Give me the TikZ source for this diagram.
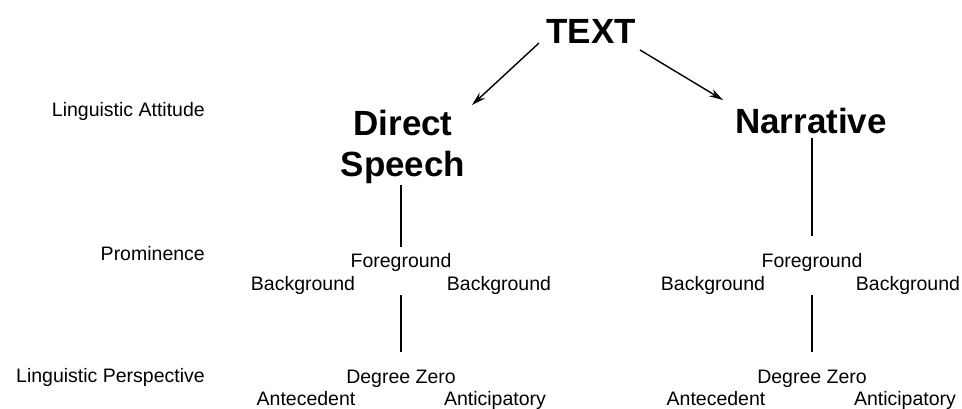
\documentclass[tikz,border=0pt]{standalone}
\usepackage{fontspec}
\setmainfont{Liberation Sans}
\usetikzlibrary{arrows.meta}
\begin{document}
\begin{tikzpicture}[x=1pt,y=-1pt,
  big/.style={font=\fontsize{35}{38}\selectfont\bfseries, inner sep=0pt, anchor=base},
  small/.style={font=\fontsize{19.5}{21}\selectfont, inner sep=0pt, anchor=base},
  lbl/.style={font=\fontsize{19.5}{21}\selectfont, inner sep=0pt, anchor=base east},
  arr/.style={-{Stealth[length=14pt,width=8pt]}, line width=1.4pt},
  ln/.style={line width=1.4pt}]
\useasboundingbox (0,0) rectangle (962,408);
% level labels
\node[lbl] (la) at (205,116) {Linguistic Attitude};
\node[lbl] (lp) at (205,260) {Prominence};
\node[lbl] (lpp) at (205,382) {Linguistic Perspective};
% top
\node[big] (text) at (591,43) {TEXT};
\node[big] (direct) at (403,135) {Direct};
\node[big] (speech) at (403,176) {Speech};
\node[big] (narr) at (811,133) {Narrative};
\coordinate (a1s) at (539,43);
\coordinate (a1e) at (472,105);
\coordinate (a2s) at (640,50);
\coordinate (a2e) at (723,100);
\draw[arr] (a1s) -- (a1e);
\draw[arr] (a2s) -- (a2e);
% Direct Speech branch
\node[small] (fgA) at (401,267) {Foreground};
\node[small] (bgA1) at (303,290) {Background};
\node[small] (bgA2) at (499,290) {Background};
\node[small] (dzA) at (401,383) {Degree Zero};
\node[small] (anA) at (306,405) {Antecedent};
\node[small] (acA) at (495,405) {Anticipatory};
\draw[ln] (speech.south -| fgA.north) ++(0,2) -- ([yshift=6pt]fgA.north);
\draw[ln] ([yshift=-24pt]fgA.south) -- ([yshift=17pt]dzA.north);
% Narrative branch
\node[small] (fgB) at (812,267) {Foreground};
\node[small] (bgB1) at (713,290) {Background};
\node[small] (bgB2) at (908,290) {Background};
\node[small] (dzB) at (812,383) {Degree Zero};
\node[small] (anB) at (716,405) {Antecedent};
\node[small] (acB) at (905,405) {Anticipatory};
\draw[ln] (narr.south -| fgB.north) ++(0,4) -- ([yshift=17pt]fgB.north);
\draw[ln] ([yshift=-24pt]fgB.south) -- ([yshift=17pt]dzB.north);
\end{tikzpicture}
\end{document}
